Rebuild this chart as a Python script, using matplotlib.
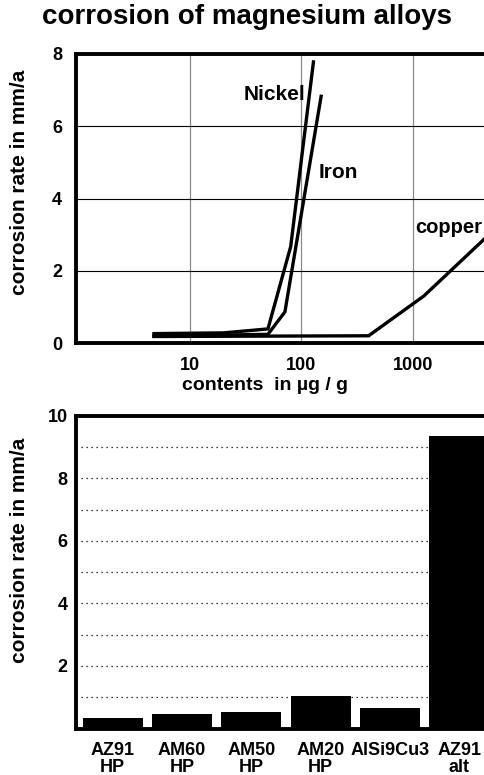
import matplotlib
matplotlib.use("Agg")
import matplotlib.pyplot as plt
import numpy as np

plt.rcParams['font.family'] = ['Liberation Sans', 'DejaVu Sans']
plt.rcParams['font.weight'] = 'bold'

# --- top chart data (contents in µg/g vs corrosion rate) ---
nickel_x = [4.75, 20, 50, 80, 128]
nickel_y = [0.26, 0.28, 0.39, 2.67, 7.78]
iron_x = [4.75, 50, 71, 150]
iron_y = [0.19, 0.24, 0.86, 6.83]
copper_x = [4.75, 400, 1250, 5000]
copper_y = [0.18, 0.20, 1.30, 3.05]
top_xticks = [10, 100, 1000]
top_yticks = [0, 2, 4, 6, 8]

# --- bottom chart data ---
alloys = ["AZ91\nHP", "AM60\nHP", "AM50\nHP", "AM20\nHP", "AlSi9Cu3", "AZ91\nalt"]
rates = [0.33, 0.46, 0.54, 1.05, 0.65, 9.36]
bottom_yticks = [2, 4, 6, 8, 10]
bottom_grid = [1, 2, 3, 4, 5, 6, 7, 8, 9]

W, H = 485, 775
fig = plt.figure(figsize=(W / 100, H / 100), dpi=100)

fig.text(247 / W, 1 - 17 / H, "corrosion of magnesium alloys", ha='center', va='center',
         fontsize=20, fontweight='bold')

# ---------------- top axes ----------------
t_l, t_top, t_bot, t_w = 76, 54, 343, 448.5
ax1 = fig.add_axes([t_l / W, 1 - t_bot / H, t_w / W, (t_bot - t_top) / H])
ax1.set_xscale('log')
ax1.set_xlim(0.95, 10000)
ax1.set_ylim(0, 8)
for xs, ys in [(nickel_x, nickel_y), (iron_x, iron_y), (copper_x, copper_y)]:
    ax1.plot(xs, ys, color='black', lw=2.4, solid_joinstyle='miter', zorder=3)
ax1.set_xticks(top_xticks)
ax1.set_xticklabels([str(v) for v in top_xticks])
ax1.xaxis.set_minor_locator(matplotlib.ticker.NullLocator())
ax1.set_yticks(top_yticks)
ax1.tick_params(length=0, labelsize=13, pad=10)
for lab in ax1.get_xticklabels() + ax1.get_yticklabels():
    lab.set_fontweight('bold')
for v in top_xticks:
    ax1.axvline(v, color='#8a8a8a', lw=0.9, zorder=1)
for v in [2, 4, 6]:
    ax1.axhline(v, color='black', lw=0.8, zorder=1)
for s in ax1.spines.values():
    s.set_linewidth(2.8)
ax1.set_ylabel("corrosion rate in mm/a", fontsize=15, fontweight='bold')
ax1.yaxis.set_label_coords(-(t_l - 20) / t_w, (t_bot - 182) / (t_bot - t_top))
ax1.set_xlabel("contents  in µg / g", fontsize=14, fontweight='bold')
ax1.xaxis.set_label_coords((265 - t_l) / t_w, -(385 - t_bot) / (t_bot - t_top))
ax1.xaxis.label.set_va('center')
ax1.yaxis.label.set_va('center')
ax1.text(30, 6.88, "Nickel", fontsize=15, fontweight='bold', ha='left', va='center')
ax1.text(141, 4.71, "Iron", fontsize=15, fontweight='bold', ha='left', va='center')
ax1.text(1050, 3.19, "copper", fontsize=14.5, fontweight='bold', ha='left', va='center')

# ---------------- bottom axes ----------------
px_per_unit = 69.3
xl = (-0.53, 5.6)
b_top, b_bot = 415.7, 728.5
b_w = (xl[1] - xl[0]) * px_per_unit
ax2 = fig.add_axes([t_l / W, 1 - b_bot / H, b_w / W, (b_bot - b_top) / H])
pos = np.arange(len(alloys))
ax2.bar(pos, rates, width=0.865, color='black', zorder=3)
ax2.set_xlim(*xl)
ax2.set_ylim(0, 10)
for v in bottom_grid:
    ax2.axhline(v, color='black', lw=0.9, ls=(0, (1, 3)), zorder=1)
ax2.set_yticks(bottom_yticks)
ax2.set_xticks(pos)
ax2.set_xticklabels(alloys, linespacing=0.95)
ax2.tick_params(length=0, labelsize=13)
ax2.tick_params(axis='y', pad=6)
ax2.tick_params(axis='x', pad=10)
for lab in ax2.get_xticklabels() + ax2.get_yticklabels():
    lab.set_fontweight('bold')
for s in ax2.spines.values():
    s.set_linewidth(2.8)
ax2.set_ylabel("corrosion rate in mm/a", fontsize=15, fontweight='bold')
ax2.yaxis.set_label_coords(-(t_l - 20) / b_w, (b_bot - 550) / (b_bot - b_top))
ax2.yaxis.label.set_va('center')

fig.savefig("out.png", dpi=100)
